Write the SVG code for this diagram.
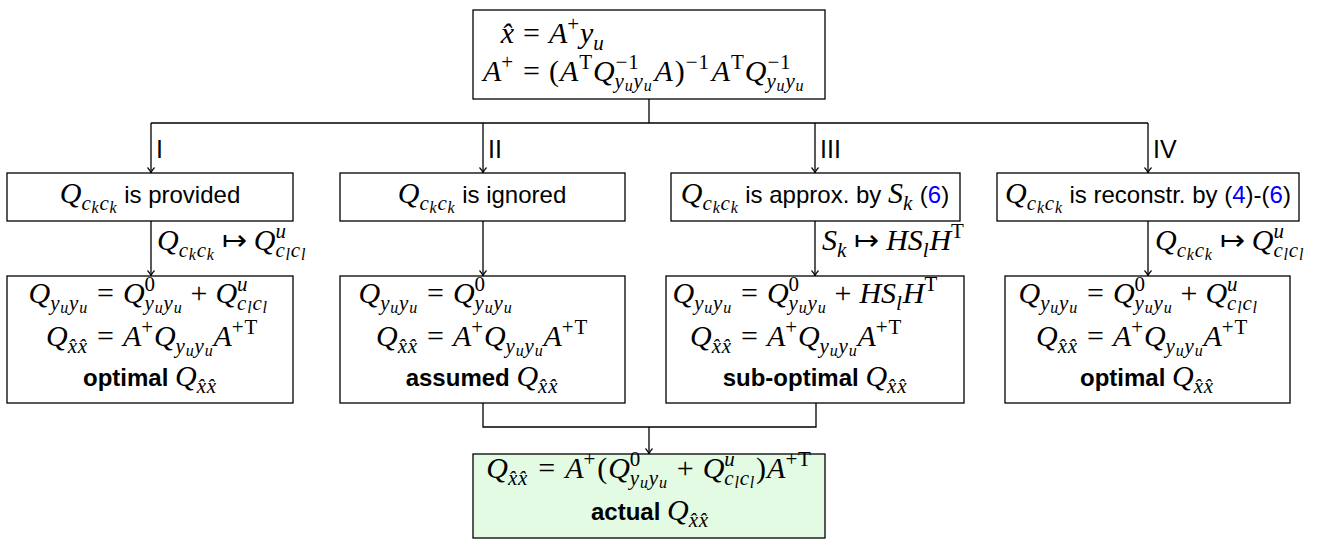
<svg xmlns="http://www.w3.org/2000/svg" width="1320" height="540" viewBox="0 0 1320 540">
<style>
.box{fill:#fff;stroke:#000;stroke-width:1.3}
.green{fill:#e2fbe2}
.ln{fill:none;stroke:#000;stroke-width:1.3}
text{font-family:"Liberation Sans",Arial,sans-serif;font-size:24px;fill:#000}
.lab{font-size:25px}
.m{font-family:"Liberation Serif","Times New Roman",serif;font-size:30px}
.i{font-style:italic}
.s{font-size:21px;letter-spacing:0.8px}
.ss{font-size:16px;letter-spacing:0.8px}
.b{font-weight:bold}
.ref{fill:#0000ff}
</style>
<defs>
<marker id="ah" markerWidth="10" markerHeight="10" refX="6" refY="5" orient="auto" markerUnits="userSpaceOnUse">
<path d="M0.5,1.5 Q3.5,4.3 6,5 Q3.5,5.7 0.5,8.5" fill="none" stroke="#000" stroke-width="1.1"/>
</marker>
</defs>

<g id="connectors">
<path class="ln" d="M649,99 V123 M151,123 H1148"/>
<path class="ln" d="M151,123 V173" marker-end="url(#ah)"/>
<path class="ln" d="M483,123 V173" marker-end="url(#ah)"/>
<path class="ln" d="M815,123 V173" marker-end="url(#ah)"/>
<path class="ln" d="M1148,123 V173" marker-end="url(#ah)"/>
<path class="ln" d="M151,221 V276" marker-end="url(#ah)"/>
<path class="ln" d="M483,221 V276" marker-end="url(#ah)"/>
<path class="ln" d="M815,221 V276" marker-end="url(#ah)"/>
<path class="ln" d="M1148,221 V276" marker-end="url(#ah)"/>
<path class="ln" d="M483,403 V427 H816 V403"/>
<path class="ln" d="M649,427 V454" marker-end="url(#ah)"/>
<text class="lab" x="156" y="158">I</text>
<text class="lab" x="488" y="158">II</text>
<text class="lab" x="820" y="158">III</text>
<text class="lab" x="1153" y="158">IV</text>
<text class="m" x="157" y="250"><tspan class="i">Q</tspan><tspan class="s i" dy="7">c</tspan><tspan class="ss i" dy="3">k</tspan><tspan class="s i" dy="-3">c</tspan><tspan class="ss i" dy="3">k</tspan><tspan dx="7" dy="-10">↦</tspan><tspan class="i" dx="7">Q</tspan><tspan class="s i" dy="-12">u</tspan><tspan class="s i" dx="-11.3" dy="19">c</tspan><tspan class="ss i" dy="3">l</tspan><tspan class="s i" dy="-3">c</tspan><tspan class="ss i" dy="3">l</tspan></text>
<text class="m" x="822" y="250"><tspan class="i">S</tspan><tspan class="s i" dy="7">k</tspan><tspan dx="7" dy="-7">↦</tspan><tspan class="i" dx="7">HS</tspan><tspan class="s i" dy="7">l</tspan><tspan class="i" dy="-7">H</tspan><tspan class="s" dy="-12">T</tspan></text>
<text class="m" x="1155" y="250"><tspan class="i">Q</tspan><tspan class="s i" dy="7">c</tspan><tspan class="ss i" dy="3">k</tspan><tspan class="s i" dy="-3">c</tspan><tspan class="ss i" dy="3">k</tspan><tspan dx="7" dy="-10">↦</tspan><tspan class="i" dx="7">Q</tspan><tspan class="s i" dy="-12">u</tspan><tspan class="s i" dx="-11.3" dy="19">c</tspan><tspan class="ss i" dy="3">l</tspan><tspan class="s i" dy="-3">c</tspan><tspan class="ss i" dy="3">l</tspan></text>
</g>

<g id="top">
<rect class="box" x="473" y="10" width="352" height="89"/>
<text class="m i" x="514" y="43" text-anchor="end">x̂</text>
<text class="m" x="523" y="43">=<tspan class="i" dx="9">A</tspan><tspan class="s" dy="-12">+</tspan><tspan class="i" dy="12">y</tspan><tspan class="s i" dy="7">u</tspan></text>
<text class="m" x="514" y="81" text-anchor="end"><tspan class="i">A</tspan><tspan class="s" dy="-12">+</tspan></text>
<text class="m" x="523" y="81">=<tspan dx="9">(</tspan><tspan class="i" dx="1">A</tspan><tspan class="s" dy="-12" dx="1">T</tspan><tspan class="i" dy="12">Q</tspan><tspan class="s" dy="-12" dx="1">−1</tspan><tspan class="s i" dx="-24.9" dy="19">y</tspan><tspan class="ss i" dy="3">u</tspan><tspan class="s i" dy="-3">y</tspan><tspan class="ss i" dy="3">u</tspan><tspan class="i" dy="-10" dx="2">A</tspan><tspan dx="2">)</tspan><tspan class="s" dy="-12" dx="1">−1</tspan><tspan class="i" dy="12" dx="2">A</tspan><tspan class="s" dy="-12" dx="1">T</tspan><tspan class="i" dy="12">Q</tspan><tspan class="s" dy="-12" dx="1">−1</tspan><tspan class="s i" dx="-24.9" dy="19">y</tspan><tspan class="ss i" dy="3">u</tspan><tspan class="s i" dy="-3">y</tspan><tspan class="ss i" dy="3">u</tspan></text>
</g>

<g id="case1">
<rect class="box" x="7" y="173" width="286" height="48"/>
<text x="150" y="203" text-anchor="middle"><tspan class="m i">Q</tspan><tspan class="m s i" dy="7">c</tspan><tspan class="m ss i" dy="3">k</tspan><tspan class="m s i" dy="-3">c</tspan><tspan class="m ss i" dy="3">k</tspan><tspan dy="-10"> is provided</tspan></text>
</g>
<g id="case2">
<rect class="box" x="340" y="173" width="285" height="48"/>
<text x="482" y="203" text-anchor="middle"><tspan class="m i">Q</tspan><tspan class="m s i" dy="7">c</tspan><tspan class="m ss i" dy="3">k</tspan><tspan class="m s i" dy="-3">c</tspan><tspan class="m ss i" dy="3">k</tspan><tspan dy="-10"> is ignored</tspan></text>
</g>
<g id="case3">
<rect class="box" x="671" y="173" width="289" height="48"/>
<text x="815" y="203" text-anchor="middle"><tspan class="m i">Q</tspan><tspan class="m s i" dy="7">c</tspan><tspan class="m ss i" dy="3">k</tspan><tspan class="m s i" dy="-3">c</tspan><tspan class="m ss i" dy="3">k</tspan><tspan dy="-10"> is approx. by </tspan><tspan class="m i">S</tspan><tspan class="m s i" dy="7">k</tspan><tspan dy="-7"> (</tspan><tspan class="ref">6</tspan><tspan>)</tspan></text>
</g>
<g id="case4">
<rect class="box" x="997" y="173" width="302" height="48"/>
<text x="1148" y="203" text-anchor="middle"><tspan class="m i">Q</tspan><tspan class="m s i" dy="7">c</tspan><tspan class="m ss i" dy="3">k</tspan><tspan class="m s i" dy="-3">c</tspan><tspan class="m ss i" dy="3">k</tspan><tspan dy="-10"> is reconstr. by (</tspan><tspan class="ref">4</tspan><tspan>)-(</tspan><tspan class="ref">6</tspan><tspan>)</tspan></text>
</g>

<g id="result1">
<rect class="box" x="7" y="276" width="286" height="127"/>
<text class="m" x="88" y="303" text-anchor="end"><tspan class="i">Q</tspan><tspan class="s i" dy="7">y</tspan><tspan class="ss i" dy="3">u</tspan><tspan class="s i" dy="-3">y</tspan><tspan class="ss i" dy="3">u</tspan></text>
<text class="m" x="97" y="303">=<tspan class="i" dx="9">Q</tspan><tspan class="s" dy="-12">0</tspan><tspan class="s i" dx="-11.3" dy="19">y</tspan><tspan class="ss i" dy="3">u</tspan><tspan class="s i" dy="-3">y</tspan><tspan class="ss i" dy="3">u</tspan><tspan dx="8" dy="-10">+</tspan><tspan class="i" dx="8">Q</tspan><tspan class="s i" dy="-12">u</tspan><tspan class="s i" dx="-11.3" dy="19">c</tspan><tspan class="ss i" dy="3">l</tspan><tspan class="s i" dy="-3">c</tspan><tspan class="ss i" dy="3">l</tspan></text>
<text class="m" x="88" y="346" text-anchor="end"><tspan class="i">Q</tspan><tspan class="s i" dy="7">x̂x̂</tspan></text>
<text class="m" x="97" y="346">=<tspan class="i" dx="9">A</tspan><tspan class="s" dy="-12">+</tspan><tspan class="i" dy="12">Q</tspan><tspan class="s i" dy="7">y</tspan><tspan class="ss i" dy="3">u</tspan><tspan class="s i" dy="-3">y</tspan><tspan class="ss i" dy="3">u</tspan><tspan class="i" dy="-10">A</tspan><tspan class="s" dy="-12">+T</tspan></text>
<text x="150" y="386" text-anchor="middle"><tspan class="b">optimal </tspan><tspan class="m i">Q</tspan><tspan class="m s i" dy="7">x̂x̂</tspan></text>
</g>

<g id="result2">
<rect class="box" x="340" y="276" width="285" height="127"/>
<text class="m" x="418" y="303" text-anchor="end"><tspan class="i">Q</tspan><tspan class="s i" dy="7">y</tspan><tspan class="ss i" dy="3">u</tspan><tspan class="s i" dy="-3">y</tspan><tspan class="ss i" dy="3">u</tspan></text>
<text class="m" x="427" y="303">=<tspan class="i" dx="9">Q</tspan><tspan class="s" dy="-12">0</tspan><tspan class="s i" dx="-11.3" dy="19">y</tspan><tspan class="ss i" dy="3">u</tspan><tspan class="s i" dy="-3">y</tspan><tspan class="ss i" dy="3">u</tspan></text>
<text class="m" x="418" y="346" text-anchor="end"><tspan class="i">Q</tspan><tspan class="s i" dy="7">x̂x̂</tspan></text>
<text class="m" x="427" y="346">=<tspan class="i" dx="9">A</tspan><tspan class="s" dy="-12">+</tspan><tspan class="i" dy="12">Q</tspan><tspan class="s i" dy="7">y</tspan><tspan class="ss i" dy="3">u</tspan><tspan class="s i" dy="-3">y</tspan><tspan class="ss i" dy="3">u</tspan><tspan class="i" dy="-10">A</tspan><tspan class="s" dy="-12">+T</tspan></text>
<text x="482" y="386" text-anchor="middle"><tspan class="b">assumed </tspan><tspan class="m i">Q</tspan><tspan class="m s i" dy="7">x̂x̂</tspan></text>
</g>

<g id="result3">
<rect class="box" x="666" y="276" width="298" height="127"/>
<text class="m" x="732" y="303" text-anchor="end"><tspan class="i">Q</tspan><tspan class="s i" dy="7">y</tspan><tspan class="ss i" dy="3">u</tspan><tspan class="s i" dy="-3">y</tspan><tspan class="ss i" dy="3">u</tspan></text>
<text class="m" x="741" y="303">=<tspan class="i" dx="9">Q</tspan><tspan class="s" dy="-12">0</tspan><tspan class="s i" dx="-11.3" dy="19">y</tspan><tspan class="ss i" dy="3">u</tspan><tspan class="s i" dy="-3">y</tspan><tspan class="ss i" dy="3">u</tspan><tspan dx="8" dy="-10">+</tspan><tspan class="i" dx="8">HS</tspan><tspan class="s i" dy="7">l</tspan><tspan class="i" dy="-7">H</tspan><tspan class="s" dy="-12">T</tspan></text>
<text class="m" x="732" y="346" text-anchor="end"><tspan class="i">Q</tspan><tspan class="s i" dy="7">x̂x̂</tspan></text>
<text class="m" x="741" y="346">=<tspan class="i" dx="9">A</tspan><tspan class="s" dy="-12">+</tspan><tspan class="i" dy="12">Q</tspan><tspan class="s i" dy="7">y</tspan><tspan class="ss i" dy="3">u</tspan><tspan class="s i" dy="-3">y</tspan><tspan class="ss i" dy="3">u</tspan><tspan class="i" dy="-10">A</tspan><tspan class="s" dy="-12">+T</tspan></text>
<text x="815" y="386" text-anchor="middle"><tspan class="b">sub-optimal </tspan><tspan class="m i">Q</tspan><tspan class="m s i" dy="7">x̂x̂</tspan></text>
</g>

<g id="result4">
<rect class="box" x="1005" y="276" width="285" height="127"/>
<text class="m" x="1078" y="303" text-anchor="end"><tspan class="i">Q</tspan><tspan class="s i" dy="7">y</tspan><tspan class="ss i" dy="3">u</tspan><tspan class="s i" dy="-3">y</tspan><tspan class="ss i" dy="3">u</tspan></text>
<text class="m" x="1087" y="303">=<tspan class="i" dx="9">Q</tspan><tspan class="s" dy="-12">0</tspan><tspan class="s i" dx="-11.3" dy="19">y</tspan><tspan class="ss i" dy="3">u</tspan><tspan class="s i" dy="-3">y</tspan><tspan class="ss i" dy="3">u</tspan><tspan dx="8" dy="-10">+</tspan><tspan class="i" dx="8">Q</tspan><tspan class="s i" dy="-12">u</tspan><tspan class="s i" dx="-11.3" dy="19">c</tspan><tspan class="ss i" dy="3">l</tspan><tspan class="s i" dy="-3">c</tspan><tspan class="ss i" dy="3">l</tspan></text>
<text class="m" x="1078" y="346" text-anchor="end"><tspan class="i">Q</tspan><tspan class="s i" dy="7">x̂x̂</tspan></text>
<text class="m" x="1087" y="346">=<tspan class="i" dx="9">A</tspan><tspan class="s" dy="-12">+</tspan><tspan class="i" dy="12">Q</tspan><tspan class="s i" dy="7">y</tspan><tspan class="ss i" dy="3">u</tspan><tspan class="s i" dy="-3">y</tspan><tspan class="ss i" dy="3">u</tspan><tspan class="i" dy="-10">A</tspan><tspan class="s" dy="-12">+T</tspan></text>
<text x="1147" y="386" text-anchor="middle"><tspan class="b">optimal </tspan><tspan class="m i">Q</tspan><tspan class="m s i" dy="7">x̂x̂</tspan></text>
</g>

<g id="actual">
<rect class="box green" x="473" y="454" width="352" height="84"/>
<text class="m" x="649" y="478" text-anchor="middle"><tspan class="i">Q</tspan><tspan class="s i" dy="7">x̂x̂</tspan><tspan dx="10" dy="-7">=</tspan><tspan class="i" dx="10">A</tspan><tspan class="s" dy="-12">+</tspan><tspan dy="12" dx="1">(</tspan><tspan class="i" dx="1">Q</tspan><tspan class="s" dy="-12">0</tspan><tspan class="s i" dx="-11.3" dy="19">y</tspan><tspan class="ss i" dy="3">u</tspan><tspan class="s i" dy="-3">y</tspan><tspan class="ss i" dy="3">u</tspan><tspan dx="9" dy="-10">+</tspan><tspan class="i" dx="9">Q</tspan><tspan class="s i" dy="-12">u</tspan><tspan class="s i" dx="-11.3" dy="19">c</tspan><tspan class="ss i" dy="3">l</tspan><tspan class="s i" dy="-3">c</tspan><tspan class="ss i" dy="3">l</tspan><tspan dy="-10" dx="1">)</tspan><tspan class="i" dx="1">A</tspan><tspan class="s" dy="-12">+T</tspan></text>
<text x="650" y="520" text-anchor="middle"><tspan class="b">actual </tspan><tspan class="m i">Q</tspan><tspan class="m s i" dy="7">x̂x̂</tspan></text>
</g>
</svg>
